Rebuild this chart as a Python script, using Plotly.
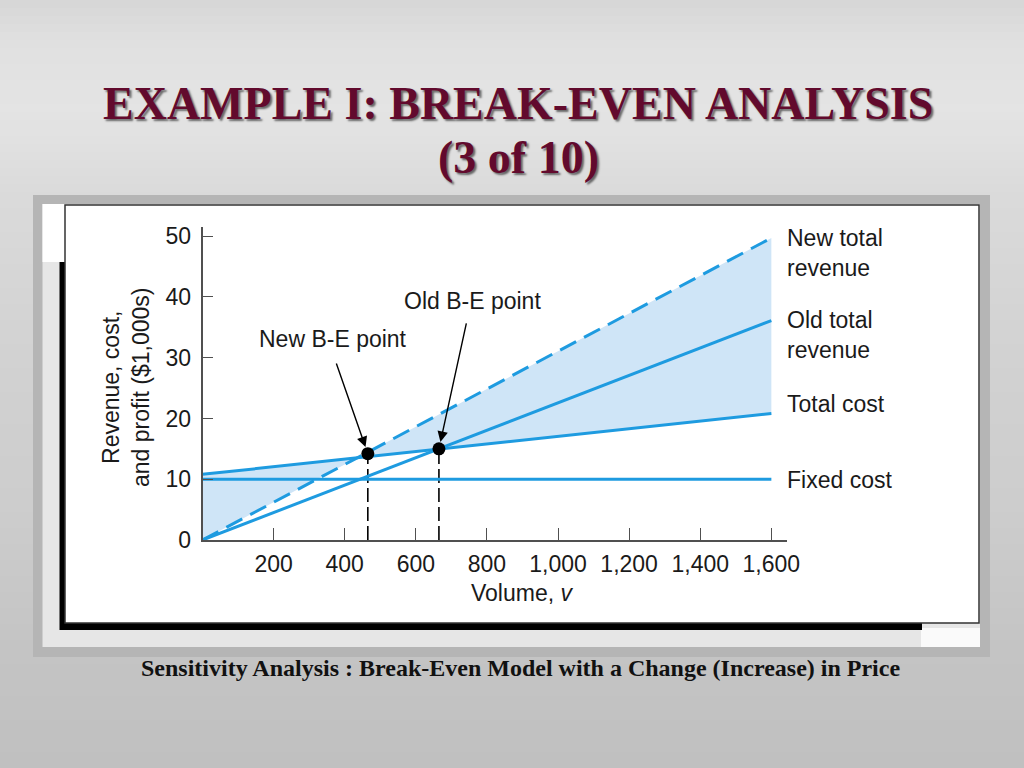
import plotly.graph_objects as go

# ---------------- data ----------------
volume_ends = [0, 1600]              # lines are drawn over this volume span
fixed_cost = [10.0, 10.0]
total_cost = [10.8, 20.8]
old_revenue = [0.0, 36.1]
new_revenue = [0.0, 49.7]

be_volume = [465, 665]               # new / old break-even volume
be_value = [14.2, 15.0]              # value at the break-even points
be_labels = ["New B-E point", "Old B-E point"]
be_label_volume = [367, 758]         # where the point labels sit
be_label_value = [33.1, 39.3]
arrow_tail_volume = [375, 743]
arrow_tail_value = [29.3, 35.9]

line_labels = ["New total<br>revenue", "Old total<br>revenue", "Total cost", "Fixed cost"]
line_label_values = [new_revenue[1], old_revenue[1], total_cost[1], fixed_cost[1]]
line_label_shift = [-15, -14, 10, -1]

x_tickvals = [200, 400, 600, 800, 1000, 1200, 1400, 1600]
x_ticktext = ["200", "400", "600", "800", "1,000", "1,200", "1,400", "1,600"]
y_tickvals = [0, 10, 20, 30, 40, 50]

title_lines = ["EXAMPLE I: BREAK-EVEN ANALYSIS", "(3 of 10)"]
caption = "Sensitivity Analysis : Break-Even Model with a Change (Increase) in Price"
y_title = "Revenue, cost,<br>and profit ($1,000s)"
x_title = "Volume, <i>v</i>"

# ---------------- styling ----------------
W, H = 1024, 768
BLUE = "#1e9be0"
FILL = "#cfe5f7"
SANS = "Liberation Sans, Arial, Helvetica, sans-serif"
SERIF = "Liberation Serif, Times New Roman, serif"
TXT = "#1a1a1a"
FS = 23


def px(x):
    return x / W


def py(y):
    return 1 - y / H


fig = go.Figure()

# shaded area between new total revenue and total cost
fig.add_trace(go.Scatter(
    x=[volume_ends[0], volume_ends[1], volume_ends[1], volume_ends[0]],
    y=[total_cost[0], total_cost[1], new_revenue[1], new_revenue[0]],
    fill="toself", fillcolor=FILL, mode="lines", line=dict(width=0),
    hoverinfo="skip", showlegend=False))

# dashed drop lines from the break-even points
for v, val in zip(be_volume, be_value):
    fig.add_trace(go.Scatter(
        x=[v, v], y=[0, val], mode="lines",
        line=dict(color="black", width=1.6, dash="14px,5px"),
        hoverinfo="skip", showlegend=False))

# the four lines
fig.add_trace(go.Scatter(x=volume_ends, y=fixed_cost, mode="lines",
                         line=dict(color=BLUE, width=3), showlegend=False))
fig.add_trace(go.Scatter(x=volume_ends, y=total_cost, mode="lines",
                         line=dict(color=BLUE, width=3), showlegend=False))
fig.add_trace(go.Scatter(x=volume_ends, y=old_revenue, mode="lines",
                         line=dict(color=BLUE, width=3), showlegend=False))
fig.add_trace(go.Scatter(x=volume_ends, y=new_revenue, mode="lines",
                         line=dict(color=BLUE, width=3, dash="18px,9px"),
                         showlegend=False))

# break-even markers
fig.add_trace(go.Scatter(x=be_volume, y=be_value, mode="markers",
                         marker=dict(color="black", size=13), showlegend=False))

annotations = []
# arrows and point labels
for v, val, tv, tval, lab, lv, lval in zip(be_volume, be_value, arrow_tail_volume,
                                           arrow_tail_value, be_labels,
                                           be_label_volume, be_label_value):
    annotations.append(dict(
        x=v, y=val, xref="x", yref="y", ax=tv, ay=tval, axref="x", ayref="y",
        text="", showarrow=True, arrowhead=2, arrowsize=1.5, arrowwidth=1.4,
        arrowcolor="black", standoff=7))
    annotations.append(dict(
        x=lv, y=lval, xref="x", yref="y", text=lab, showarrow=False,
        xanchor="center", yanchor="middle",
        font=dict(family=SANS, size=FS, color=TXT)))

# line labels on the right
for lab, val, sh in zip(line_labels, line_label_values, line_label_shift):
    annotations.append(dict(
        x=volume_ends[1], y=val, xref="x", yref="y", xanchor="left",
        yanchor="middle", align="left", xshift=14, yshift=sh, text=lab,
        showarrow=False, font=dict(family=SANS, size=FS, color=TXT)))

# axis titles
annotations.append(dict(x=px(126), y=py(388), xref="paper", yref="paper",
                        xanchor="center", yanchor="middle",
                        text=y_title, textangle=-90, showarrow=False,
                        font=dict(family=SANS, size=FS, color=TXT)))
annotations.append(dict(x=px(522), y=py(593), xref="paper", yref="paper",
                        xanchor="center", yanchor="middle",
                        text=x_title, showarrow=False,
                        font=dict(family=SANS, size=FS, color=TXT)))

# slide title and caption
for t, yy in zip(title_lines, [103, 158]):
    annotations.append(dict(
        x=px(518), y=py(yy), xref="paper", yref="paper", text=t,
        xanchor="center", yanchor="middle", showarrow=False,
        font=dict(family=SERIF, size=46, color="#620a2d",
                  weight="bold", shadow="2px 2px 2px rgba(0,0,0,0.55)")))
annotations.append(dict(
    x=px(520), y=py(668), xref="paper", yref="paper", text=caption,
    xanchor="center", yanchor="middle", showarrow=False,
    font=dict(family=SERIF, size=24, color="#111111", weight="bold")))

# ---------------- background shapes ----------------
shapes = []
stops = [(0, 214), (40, 224), (110, 228), (200, 218), (350, 210),
         (500, 205), (650, 196), (768, 192)]


def gray_at(y):
    for (y0, c0), (y1, c1) in zip(stops[:-1], stops[1:]):
        if y0 <= y <= y1:
            return c0 + (c1 - c0) * (y - y0) / (y1 - y0)
    return stops[-1][1]


band = 8
for y0 in range(0, H, band):
    g = int(round(gray_at(y0 + band / 2)))
    shapes.append(dict(type="rect", xref="paper", yref="paper", layer="below",
                       x0=0, x1=1, y0=max(0, py(y0 + band + 0.5)), y1=py(y0),
                       fillcolor=f"rgb({g},{g},{g})", line=dict(width=0)))


def rect(x0, y0, x1, y1, fill, line=None):
    shapes.append(dict(type="rect", xref="paper", yref="paper", layer="below",
                       x0=px(x0), x1=px(x1), y0=py(y1), y1=py(y0),
                       fillcolor=fill,
                       line=line if line else dict(width=0)))


rect(33, 195, 990, 657, "#b5b5b5")
rect(42.5, 204, 980, 647, "#e6e6e6")
rect(42.5, 204, 65, 262, "#ffffff")
rect(921, 628, 980, 647, "#fafafa")
rect(59.5, 262, 922, 630, "#000000")
rect(65, 205, 979, 623, "#ffffff", dict(color="#333333", width=1.5))

fig.update_layout(
    width=W, height=H, margin=dict(l=0, r=0, t=0, b=0, autoexpand=False),
    paper_bgcolor="#cfcfcf", plot_bgcolor="rgba(0,0,0,0)",
    showlegend=False, shapes=shapes, annotations=annotations,
    xaxis=dict(domain=[px(202.5), px(787)], range=[0, 1644], automargin=False,
               tickvals=x_tickvals, ticktext=x_ticktext,
               showline=True, linecolor="#505050", linewidth=1.5,
               ticks="inside", ticklen=12, tickwidth=1.3, tickcolor="#505050",
               showgrid=False, zeroline=False, ticklabelstandoff=3,
               tickfont=dict(family=SANS, size=FS, color=TXT)),
    yaxis=dict(domain=[py(540), py(227)], range=[0, 51.5], automargin=False,
               tickvals=y_tickvals,
               showline=True, linecolor="#505050", linewidth=1.5,
               ticks="inside", ticklen=11, tickwidth=1.3, tickcolor="#505050",
               showgrid=False, zeroline=False, ticklabelstandoff=5,
               tickfont=dict(family=SANS, size=FS, color=TXT)),
)

fig.write_html("out.html", config={"displayModeBar": False},
               post_script="document.body.style.margin='0';")
